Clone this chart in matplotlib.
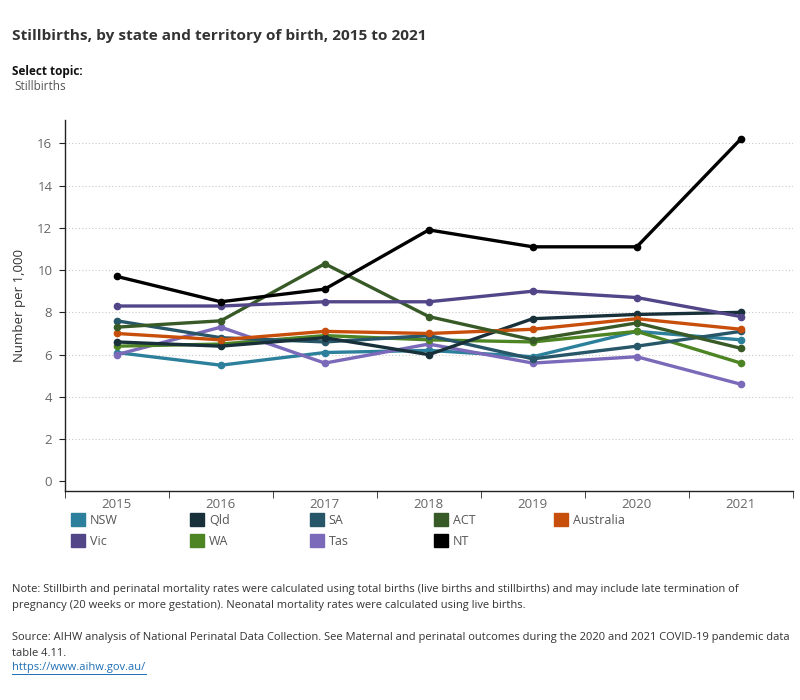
import numpy as np
import matplotlib
matplotlib.use('Agg')
import matplotlib.pyplot as plt
from matplotlib.patches import Rectangle

plt.rcParams['font.family'] = ['Open Sans', 'DejaVu Sans']

# data (rate per 1,000 births)
years = ['2015', '2016', '2017', '2018', '2019', '2020', '2021']
nsw = [6.1, 5.5, 6.1, 6.2, 5.9, 7.1, 6.7]
vic = [8.3, 8.3, 8.5, 8.5, 9.0, 8.7, 7.8]
qld = [6.6, 6.4, 6.8, 6.0, 7.7, 7.9, 8.0]
wa = [6.4, 6.5, 6.9, 6.7, 6.6, 7.1, 5.6]
sa = [7.6, 6.8, 6.6, 6.9, 5.8, 6.4, 7.1]
tas = [6.0, 7.3, 5.6, 6.5, 5.6, 5.9, 4.6]
act = [7.3, 7.6, 10.3, 7.8, 6.7, 7.5, 6.3]
nt = [9.7, 8.5, 9.1, 11.9, 11.1, 11.1, 16.2]
aus = [7.0, 6.7, 7.1, 7.0, 7.2, 7.7, 7.2]

series_names = ['NSW', 'Qld', 'SA', 'ACT', 'Australia', 'Vic', 'WA', 'Tas', 'NT']
series_vals = [nsw, qld, sa, act, aus, vic, wa, tas, nt]
colours = ['#2c809b', '#18303a', '#275668', '#385a27', '#c84f0b',
           '#524689', '#4d8424', '#7b69b9', '#000000']
draw_order = ['NSW', 'Tas', 'WA', 'SA', 'Qld', 'Australia', 'ACT', 'Vic', 'NT']

fig = plt.figure(figsize=(8, 7), dpi=100)
ax = fig.add_axes([0.081, 0.2986, 0.91, 0.53])

x = np.arange(len(years))
for name in draw_order:
    i = series_names.index(name)
    ax.plot(x, series_vals[i], color=colours[i], lw=2.4, marker='o', ms=4.5,
            solid_joinstyle='round', zorder=3)

ax.set_xlim(-0.5, len(years) - 0.5)
ax.set_ylim(-0.45, 17.1)
ax.set_yticks(np.arange(0, 17, 2))
ax.set_xticks(x)
ax.set_xticklabels(years)
ax.set_xticks(np.arange(-0.5, len(years)), minor=True)
for g in np.arange(2, 17, 2):
    ax.axhline(g, color='#c8c8c8', lw=0.8, ls=(0, (1, 2)), zorder=1)

for s in ['top', 'right']:
    ax.spines[s].set_visible(False)
for s in ['left', 'bottom']:
    ax.spines[s].set_color('#222222')
    ax.spines[s].set_linewidth(1.0)
ax.tick_params(axis='y', length=4, color='#222222', labelcolor='#666666', labelsize=9.5, pad=5)
ax.tick_params(axis='x', which='major', length=0, labelcolor='#666666', labelsize=9.5, pad=5)
ax.tick_params(axis='x', which='minor', length=5, color='#222222')
ax.set_ylabel('Number per 1,000', fontsize=9.5, color='#333333', labelpad=8)

# title and topic selector text
fig.text(0.015, 0.949, 'Stillbirths, by state and territory of birth, 2015 to 2021',
         fontsize=11.1, fontweight='bold', color='#333333', va='center')
fig.text(0.015, 0.898, 'Select topic:', fontsize=8.5, fontweight='bold', color='#111111', va='center')
fig.text(0.018, 0.876, 'Stillbirths', fontsize=8.5, color='#555555', va='center')

# legend, laid out as two rows of coloured squares
leg_x = [0.089, 0.2375, 0.3875, 0.5425, 0.6925]
leg_y = [0.257, 0.227]
for k, name in enumerate(series_names):
    r, c = divmod(k, 5)
    fig.patches.append(Rectangle((leg_x[c], leg_y[r] - 0.009), 0.0175, 0.019,
                                 transform=fig.transFigure, color=colours[k]))
    fig.text(leg_x[c] + 0.0235, leg_y[r], name, fontsize=9, color='#555555', va='center')

note = ('Note: Stillbirth and perinatal mortality rates were calculated using total births (live births and stillbirths) and may include late termination of\n'
        'pregnancy (20 weeks or more gestation). Neonatal mortality rates were calculated using live births.')
fig.text(0.015, 0.146, note, fontsize=8, color='#333333', va='center', linespacing=1.6)
src = ('Source: AIHW analysis of National Perinatal Data Collection. See Maternal and perinatal outcomes during the 2020 and 2021 COVID-19 pandemic data\n'
       'table 4.11.')
fig.text(0.015, 0.078, src, fontsize=8, color='#333333', va='center', linespacing=1.6)
fig.text(0.015, 0.046, 'https://www.aihw.gov.au/', fontsize=8, color='#1f6fb5', va='center')
fig.add_artist(plt.Line2D([0.015, 0.182], [0.037, 0.037], color='#1f6fb5', lw=0.7))

fig.savefig('out.png', dpi=100)
